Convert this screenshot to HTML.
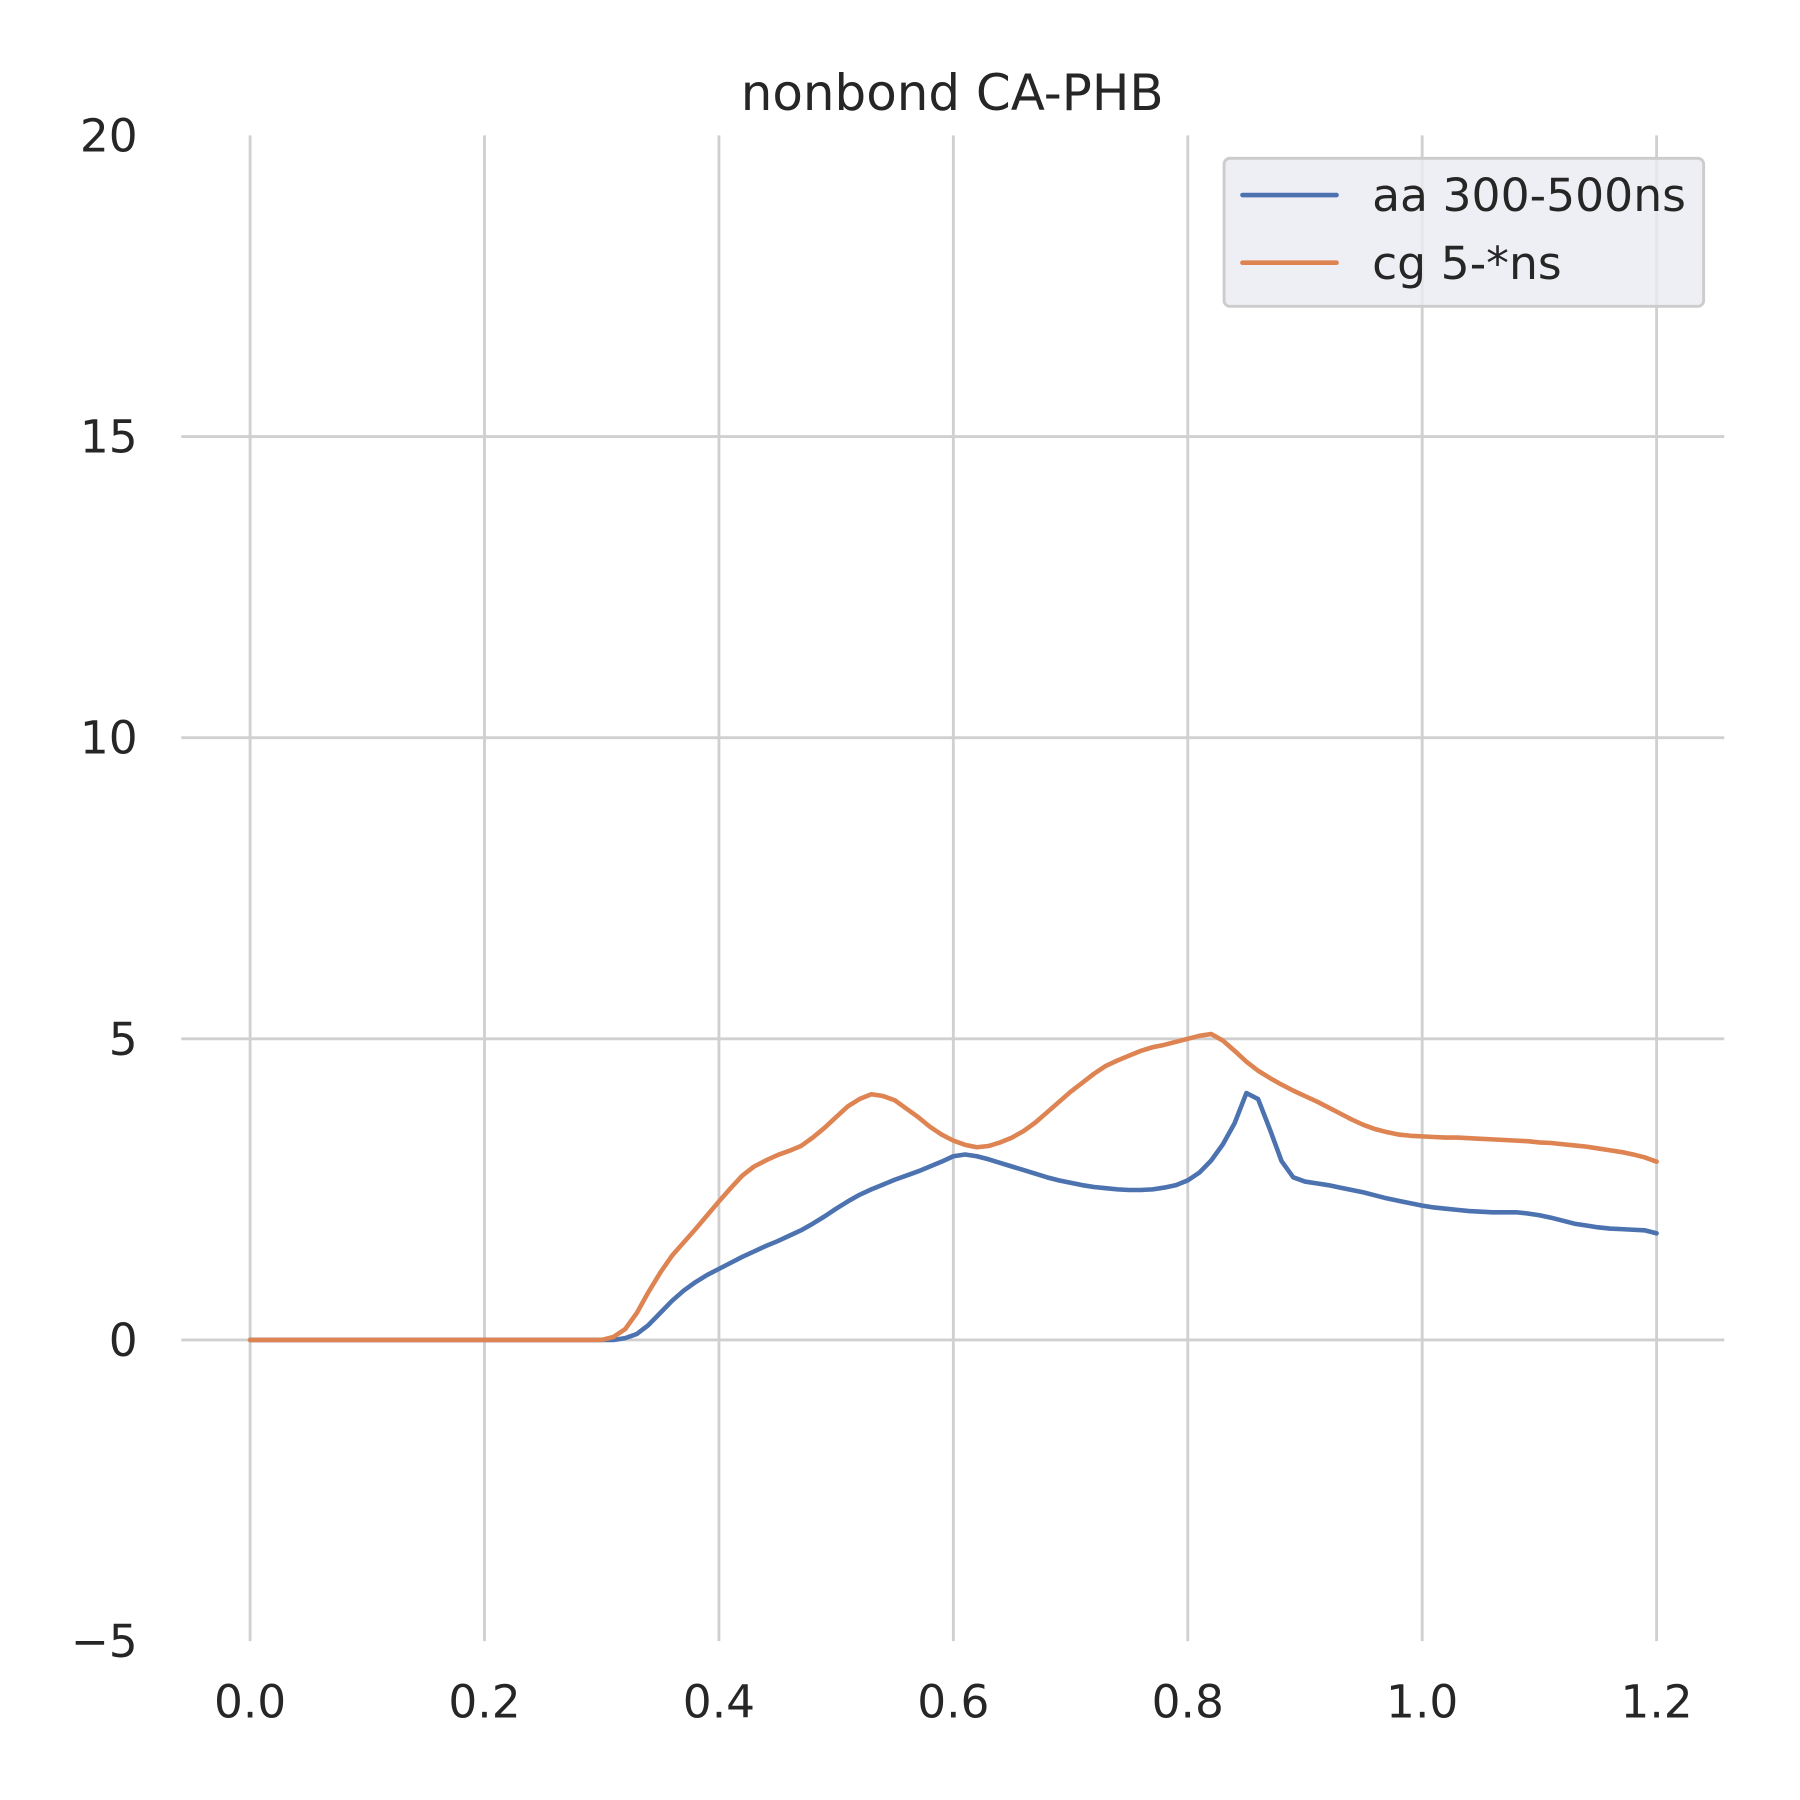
<!DOCTYPE html>
<html><head><meta charset="utf-8"><style>
html,body{margin:0;padding:0;background:#fff;}
svg{display:block;font-family:"DejaVu Sans","Liberation Sans",sans-serif;}
</style></head><body>
<svg id="chart" width="1800" height="1800" viewBox="0 0 1569 1569" xmlns="http://www.w3.org/2000/svg">
<rect width="1569" height="1569" fill="#fff"/>
<g id="grid"></g>
<g id="ticks"></g>
<g id="series"></g>
<text x="830" y="96" text-anchor="middle" font-size="43.5" fill="#262626">nonbond CA-PHB</text>
<g>
<rect x="1067" y="138" width="418" height="129" rx="5" fill="#eaeaf2" fill-opacity="0.8" stroke="#cccccc" stroke-width="2.5"/>
<line x1="1083" y1="170" x2="1165" y2="170" stroke="#4c72b0" stroke-width="4" stroke-linecap="round"/>
<text x="1196" y="184" font-size="39.8" fill="#262626">aa 300-500ns</text>
<line x1="1083" y1="229" x2="1165" y2="229" stroke="#dd8452" stroke-width="4" stroke-linecap="round"/>
<text x="1196" y="243" font-size="39.8" fill="#262626">cg 5-*ns</text>
</g>
</svg>
<script>
const xTicks=[0,0.2,0.4,0.6,0.8,1.0,1.2];
const xTickLabels=["0.0","0.2","0.4","0.6","0.8","1.0","1.2"];
const yTicks=[-5,0,5,10,15,20];
const yTickLabels=["\u22125","0","5","10","15","20"];
const aaValues=[0,0,0,0,0,0,0,0,0,0,0,0,0,0,0,0,0,0,0,0,0,0,0,0,0,0,0,0,0,0,0,0,
0.03,0.1,0.25,0.45,0.65,0.82,0.96,1.08,1.18,1.28,1.38,1.47,1.56,1.64,1.73,1.82,1.93,2.05,2.18,2.3,2.41,2.5,2.58,2.66,2.73,2.8,2.88,2.96,3.05,
3.08,3.05,3.0,2.94,2.88,2.82,2.76,2.7,2.65,2.61,2.57,2.54,2.52,2.5,2.49,2.49,2.5,2.53,2.57,2.65,2.78,2.98,3.25,3.6,4.1,4.0,3.5,2.97,2.7,2.63,2.6,2.57,2.53,2.49,2.45,2.4,2.35,2.31,2.27,2.23,2.2,2.18,2.16,2.14,2.13,2.12,2.12,2.12,2.1,2.07,2.03,1.98,1.93,1.9,1.87,1.85,1.84,1.83,1.82,1.77];
const cgValues=[0,0,0,0,0,0,0,0,0,0,0,0,0,0,0,0,0,0,0,0,0,0,0,0,0,0,0,0,0,0,0,
0.05,0.18,0.45,0.8,1.12,1.4,1.62,1.84,2.07,2.3,2.52,2.73,2.88,2.98,3.07,3.14,3.22,3.36,3.52,3.7,3.88,4.0,4.08,4.05,3.98,3.84,3.7,3.54,3.41,3.31,
3.24,3.2,3.22,3.28,3.36,3.47,3.61,3.78,3.95,4.12,4.27,4.42,4.55,4.64,4.72,4.8,4.86,4.9,4.95,5.0,5.05,5.08,4.97,4.8,4.62,4.47,4.35,4.24,4.14,4.05,3.96,3.86,3.76,3.66,3.57,3.5,3.45,3.41,3.39,3.38,3.37,3.36,3.36,3.35,3.34,3.33,3.32,3.31,3.3,3.28,3.27,3.25,3.23,3.21,3.18,3.15,3.12,3.08,3.03,2.96];
const xStep=0.01;
const NS="http://www.w3.org/2000/svg";
function X(v){return 218+v*(1444-218)/1.2;}
function Y(v){return 1168-v*(1168-118)/20;}
const grid=document.getElementById('grid'),ticks=document.getElementById('ticks'),series=document.getElementById('series');
function mk(tag,attrs,parent){const e=document.createElementNS(NS,tag);for(const k in attrs)e.setAttribute(k,attrs[k]);parent.appendChild(e);return e;}
xTicks.forEach((t,i)=>{
 const l=mk('line',{x1:X(t),x2:X(t),y1:Y(20),y2:Y(-5),stroke:'#d0d0d0','stroke-width':2.5},grid);
 
 
 const tx=mk('text',{x:X(t),y:1497,'text-anchor':'middle','font-size':39.6,fill:'#262626'},ticks);
 tx.textContent=xTickLabels[i];
 
 
});
yTicks.forEach((t,i)=>{
 if(t>-5&&t<20){
 const l=mk('line',{x1:158,x2:1503,y1:Y(t),y2:Y(t),stroke:'#d0d0d0','stroke-width':2.5},grid);
 
 
 }
 const tx=mk('text',{x:120,y:Y(t)+14,'text-anchor':'end','font-size':39.6,fill:'#262626'},ticks);
 tx.textContent=yTickLabels[i];
 
 
});
function line(vals,color,name){
 const d=vals.map((v,i)=>(i?'L':'M')+X(i*xStep).toFixed(2)+','+Y(v).toFixed(2)).join('');
 const p=mk('path',{d:d,fill:'none',stroke:color,'stroke-width':4,'stroke-linejoin':'round','stroke-linecap':'round'},series);
 
 
}
line(aaValues,'#4c72b0','line-aa-300-500ns');
line(cgValues,'#dd8452','line-cg-5ns');
</script>
</body></html>
